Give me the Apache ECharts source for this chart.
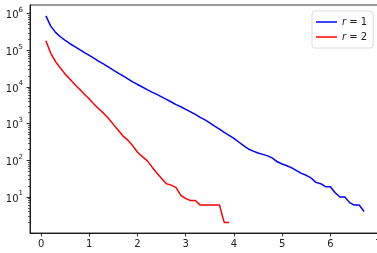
<!DOCTYPE html>
<html>
<head>
<meta charset="utf-8">
<script src="https://cdn.jsdelivr.net/npm/echarts@6/dist/echarts.min.js"></script>
<style>html,body{margin:0;padding:0;background:#fff}#c{width:377px;height:253px}</style>
</head>
<body>
<div id="c"></div>
<script>
// ---- data ----
const xR1 = [0.1,0.2,0.3,0.4,0.5,0.6,0.7,0.8,0.9,1.0,1.1,1.2,1.3,1.4,1.5,1.6,1.7,1.8,1.9,2.0,2.1,2.2,2.3,2.4,2.5,2.6,2.7,2.8,2.9,3.0,3.1,3.2,3.3,3.4,3.5,3.6,3.7,3.8,3.9,4.0,4.1,4.2,4.3,4.4,4.5,4.6,4.7,4.8,4.9,5.0,5.1,5.2,5.3,5.4,5.5,5.6,5.7,5.8,5.9,6.0,6.1,6.2,6.3,6.4,6.5,6.6,6.7];
const yR1 = [870000,457000,309000,234000,186000,151000,126000,105000,87000,72400,60300,50100,41700,34700,28800,24000,20000,16600,13800,11700,10000,8500,7240,6300,5370,4570,3890,3310,2880,2450,2090,1780,1480,1260,1050,850,710,575,479,398,316,251,204,178,158,145,132,115,91,79,71,62,52,44,39,33,25,23,19,19,13,10,10,7,6,6,4];
const xR2 = [0.1,0.2,0.3,0.4,0.5,0.6,0.7,0.8,0.9,1.0,1.1,1.2,1.3,1.4,1.5,1.6,1.7,1.8,1.9,2.0,2.1,2.2,2.3,2.4,2.5,2.6,2.7,2.8,2.9,3.0,3.1,3.2,3.3,3.4,3.5,3.6,3.7,3.8,3.9];
const yR2 = [182000,83000,49000,33000,22400,16200,11700,8700,6300,4680,3390,2510,1900,1380,955,660,457,355,251,166,126,98,66,45,32,23,21,18,11,9,8,8,6,6,6,6,6,2,2];
const seriesNames = ['r = 1', 'r = 2'];
const xTicks = [0,1,2,3,4,5,6,7];
const yTicks = [10,100,1000,10000,100000,1000000];
const yMinorTicks = [2,3,4,5,6,7,8,9,20,30,40,50,60,70,80,90,200,300,400,500,600,700,800,900,2000,3000,4000,5000,6000,7000,8000,9000,20000,30000,40000,50000,60000,70000,80000,90000,200000,300000,400000,500000,600000,700000,800000,900000];

const pair = (xs, ys) => xs.map((x, i) => [x, ys[i]]);
const FONT = 'DejaVu Sans';

const chart = echarts.init(document.getElementById('c'));
const yMin = 1.04, yMax = 1.72e6;
chart.setOption({
  animation: false,
  backgroundColor: '#fff',
  grid: { left: 30, top: 5, width: 350, height: 228, show: true, borderColor: '#000', borderWidth: 0.8, outerBoundsMode: 'none' },
  legend: {
    left: 312, top: 11, orient: 'vertical',
    padding: [5, 6, 5, 4], itemGap: 3, itemWidth: 21, itemHeight: 1.5, icon: 'rect',
    backgroundColor: '#fff', borderColor: '#d0d0d0', borderWidth: 0.8, borderRadius: 3,
    data: seriesNames,
    formatter: n => '{i|r} = ' + n.split('= ')[1],
    textStyle: { fontFamily: FONT, fontSize: 10, color: '#222', lineHeight: 12,
      rich: { i: { fontFamily: FONT, fontStyle: 'italic', fontSize: 10, color: '#222', lineHeight: 12 } } }
  },
  xAxis: {
    type: 'value', min: -0.23, max: 7.03,
    splitLine: { show: false },
    axisLine: { show: true, onZero: false, lineStyle: { color: '#000', width: 0.8 } },
    axisTick: { show: true, length: 3.5, lineStyle: { color: '#000', width: 0.8 }, customValues: xTicks },
    axisLabel: { margin: 6, fontFamily: FONT, fontSize: 10, color: '#222', customValues: xTicks, formatter: v => String(v) }
  },
  yAxis: [{
    type: 'log', logBase: 10, min: yMin, max: yMax,
    splitLine: { show: false },
    axisLine: { show: true, onZero: false, lineStyle: { color: '#000', width: 0.8 } },
    axisTick: { show: true, length: 3.5, lineStyle: { color: '#000', width: 0.8 }, customValues: yTicks },
    axisLabel: {
      margin: 7, customValues: yTicks,
      formatter: v => '{b|10}{s|' + Math.round(Math.log10(v)) + '}',
      rich: {
        b: { fontFamily: FONT, fontSize: 10, color: '#222', lineHeight: 14, verticalAlign: 'bottom' },
        s: { fontFamily: FONT, fontSize: 7, color: '#222', lineHeight: 14, verticalAlign: 'top' }
      }
    }
  }, {
    type: 'log', logBase: 10, min: yMin, max: yMax, position: 'left',
    splitLine: { show: false },
    axisLine: { show: false, onZero: false },
    axisTick: { show: true, length: 2, lineStyle: { color: '#000', width: 0.6 }, customValues: yMinorTicks },
    axisLabel: { show: false }
  }],
  series: [
    { name: seriesNames[0], type: 'line', data: pair(xR1, yR1), symbol: 'none', lineStyle: { color: '#0000ff', width: 1.5 }, itemStyle: { color: '#0000ff' } },
    { name: seriesNames[1], type: 'line', data: pair(xR2, yR2), symbol: 'none', lineStyle: { color: '#ff0000', width: 1.5 }, itemStyle: { color: '#ff0000' } }
  ]
});
</script>
</body>
</html>
